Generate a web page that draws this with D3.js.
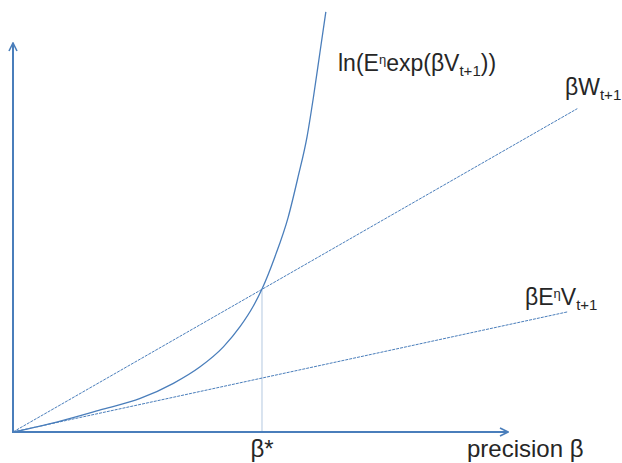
<!DOCTYPE html>
<html>
<head>
  <meta charset="utf-8">
  <title>Precision beta</title>
  <style>
    body { margin: 0; background: #fff; }
    text {
      font-family: "Liberation Sans", Arial, sans-serif;
      fill: #262626;
    }
    .axis { stroke: #4a7ebb; stroke-width: 2px; fill: none; }
    .curve { stroke: #4a7ebb; stroke-width: 1.3px; fill: none; }
    .dashed { stroke: #4a7ebb; stroke-width: 1px; stroke-dasharray: 3 1; fill: none; }
    .drop { stroke: #b4c8e0; stroke-width: 1px; fill: none; }
  </style>
</head>
<body>
  <script src="https://d3js.org/d3.v7.min.js"></script>
  <svg width="622" height="463"></svg>
  <script>
    // curve ln(E^eta exp(beta V_t+1))
    var curveX = [0, 0.9, 1.82, 2.57, 3.24, 3.78, 4.25, 4.59, 4.85, 5.03, 5.29, 5.56, 5.76, 5.94, 6.07, 6.20, 6.32];
    var curveY = [0, 0.21, 0.47, 0.69, 1.00, 1.34, 1.75, 2.17, 2.58, 2.94, 3.60, 4.42, 5.25, 6.07, 6.89, 7.80, 8.64];

    // the two straight lines from the origin
    var wLineX = [0, 11.4];
    var wLineY = [0, 6.65];
    var evLineX = [0, 11.2];
    var evLineY = [0, 2.47];

    var betaStar = 5.03;
    var betaStarY = 2.94;

    var svg = d3.select("svg");

    var x = d3.scaleLinear().domain([0, 10]).range([13, 508]);
    var y = d3.scaleLinear().domain([0, 8]).range([432, 43]);

    var defs = svg.append("defs");
    defs.append("marker")
        .attr("id", "arrow")
        .attr("viewBox", "0 0 10 10")
        .attr("refX", 9)
        .attr("refY", 5)
        .attr("markerWidth", 5)
        .attr("markerHeight", 5)
        .attr("markerUnits", "strokeWidth")
        .attr("orient", "auto")
      .append("path")
        .attr("d", "M1,1 L9,5 L1,9")
        .attr("fill", "none")
        .attr("stroke", "#4a7ebb")
        .attr("stroke-width", 1.6);

    function pts(xs, ys) {
      return xs.map(function(v, i) { return [v, ys[i]]; });
    }

    var line = d3.line()
        .x(function(d) { return x(d[0]); })
        .y(function(d) { return y(d[1]); });

    // beta* drop line
    svg.append("line")
        .attr("class", "drop")
        .attr("x1", x(betaStar)).attr("x2", x(betaStar))
        .attr("y1", y(0)).attr("y2", y(betaStarY));

    svg.append("path")
        .attr("class", "dashed")
        .attr("d", line(pts(wLineX, wLineY)));

    svg.append("path")
        .attr("class", "dashed")
        .attr("d", line(pts(evLineX, evLineY)));

    svg.append("path")
        .attr("class", "curve")
        .attr("d", line.curve(d3.curveMonotoneX)(pts(curveX, curveY)));

    // axes
    svg.append("line")
        .attr("class", "axis")
        .attr("x1", x(0)).attr("y1", y(0))
        .attr("x2", x(0)).attr("y2", y(8))
        .attr("marker-end", "url(#arrow)");

    svg.append("line")
        .attr("class", "axis")
        .attr("x1", x(0) - 1).attr("y1", y(0))
        .attr("x2", x(10)).attr("y2", y(0))
        .attr("marker-end", "url(#arrow)");

    // labels
    function label(px, py, parts) {
      var t = svg.append("text")
          .attr("x", px)
          .attr("y", py)
          .style("font-size", "23px");
      parts.forEach(function(p) {
        var s = t.append("tspan").text(p[0]);
        if (p[1] === "sup") {
          s.style("font-size", "13px").attr("dy", -7);
        } else if (p[1] === "sub") {
          s.style("font-size", "15px").attr("dy", 5);
        } else if (p[1] === "back") {
          s.attr("dy", -5);
        } else if (p[1] === "down") {
          s.attr("dy", 7);
        }
      });
      return t;
    }

    label(338, 71, [["ln(E"], ["η", "sup"], ["exp(βV", "down"], ["t+1", "sub"], ["))", "back"]]);
    label(565, 95, [["βW"], ["t+1", "sub"]]);
    label(525, 305, [["βE"], ["η", "sup"], ["V", "down"], ["t+1", "sub"]]);

    svg.append("text")
        .attr("x", x(betaStar))
        .attr("y", 457)
        .attr("text-anchor", "middle")
        .style("font-size", "24px")
        .text("β*");

    svg.append("text")
        .attr("x", 467)
        .attr("y", 457)
        .style("font-size", "24px")
        .text("precision β");
  </script>
</body>
</html>
